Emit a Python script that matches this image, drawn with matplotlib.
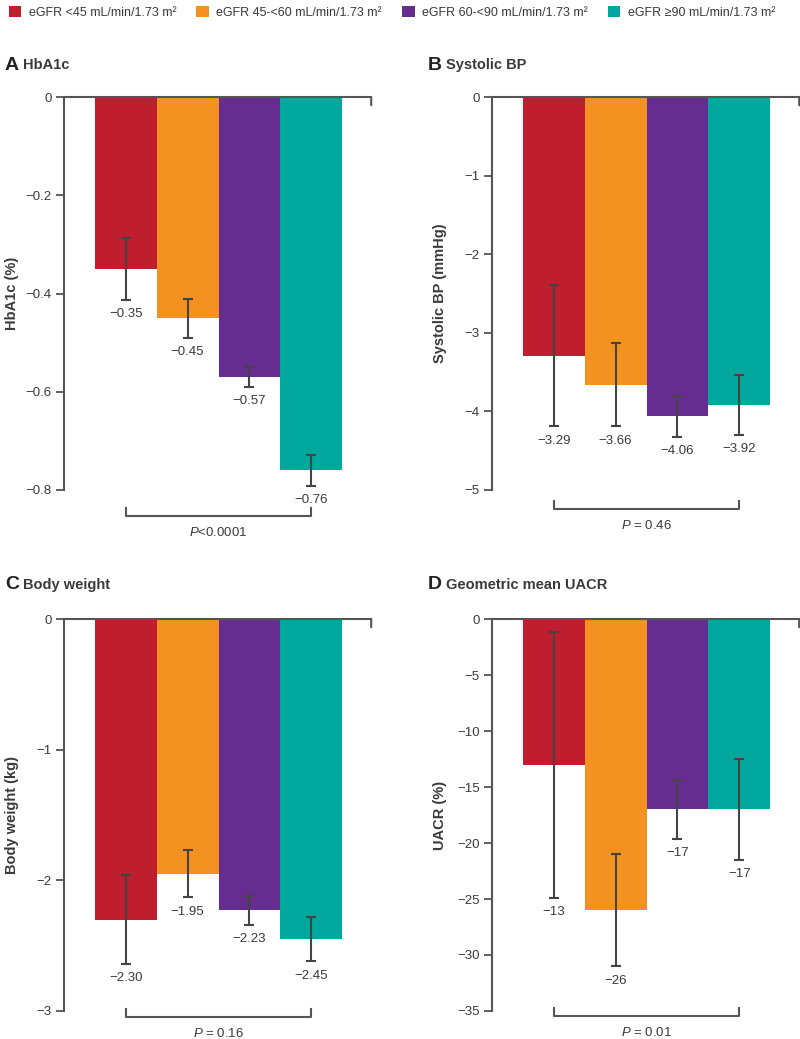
import numpy as np
import matplotlib
matplotlib.use("Agg")
from matplotlib import pyplot as plt
from matplotlib.patches import Patch
import matplotlib.transforms as mtransforms

plt.rcParams['font.family'] = ['Liberation Sans', 'DejaVu Sans']
plt.rcParams['mathtext.fontset'] = 'custom'
plt.rcParams['mathtext.it'] = 'Liberation Sans:italic'
plt.rcParams['mathtext.rm'] = 'Liberation Sans'

# data
groups = ["eGFR <45 mL/min/1.73 m\u00b2", "eGFR 45-<60 mL/min/1.73 m\u00b2",
          "eGFR 60-<90 mL/min/1.73 m\u00b2", "eGFR \u226590 mL/min/1.73 m\u00b2"]
colors = ["#BE1E2D", "#F39221", "#662D91", "#00A79D"]

letters = ["A", "B", "C", "D"]
titles = ["HbA1c", "Systolic BP", "Body weight", "Geometric mean UACR"]
ylabels = ["HbA1c (%)", "Systolic BP (mmHg)", "Body weight (kg)", "UACR (%)"]

hba1c = [-0.35, -0.45, -0.57, -0.76]
hba1c_err = [0.063, 0.04, 0.02, 0.032]
sbp = [-3.29, -3.66, -4.06, -3.92]
sbp_err = [0.90, 0.53, 0.26, 0.38]
weight = [-2.30, -1.95, -2.23, -2.45]
weight_err = [0.34, 0.18, 0.11, 0.17]
uacr = [-13, -26, -17, -17]
uacr_err = [11.9, 5.0, 2.6, 4.5]

yticks_a = [0, -0.2, -0.4, -0.6, -0.8]
yticks_b = [0, -1, -2, -3, -4, -5]
yticks_c = [0, -1, -2, -3]
yticks_d = [0, -5, -10, -15, -20, -25, -30, -35]

p_labels = ["$P$<0.0001", "$P$ = 0.46", "$P$ = 0.16", "$P$ = 0.01"]
value_fmt = ["{:.2f}", "{:.2f}", "{:.2f}", "{:.0f}"]

values = [hba1c, sbp, weight, uacr]
errors = [hba1c_err, sbp_err, weight_err, uacr_err]
yticks = [yticks_a, yticks_b, yticks_c, yticks_d]

# layout (figure fractions)
axes_rects = [[0.080, 0.5284, 0.384, 0.378],
              [0.615, 0.5284, 0.384, 0.378],
              [0.080, 0.0270, 0.384, 0.377],
              [0.615, 0.0270, 0.384, 0.377]]
bracket_y = [-0.066, -0.048, -0.015, -0.013]
title_pos = [(0.006, 0.9374), (0.535, 0.9374), (0.006, 0.437), (0.535, 0.437)]

txt = "#3a3a3a"
axc = "#555555"

def minus(s):
    return s.replace("-", "\u2212")

fig = plt.figure(figsize=(8, 10.39), dpi=100)

x = np.arange(4)
for i in range(4):
    ax = fig.add_axes(axes_rects[i])
    ax.bar(x, values[i], width=1.0, color=colors, zorder=2)
    ax.errorbar(x, values[i], yerr=errors[i], fmt='none', ecolor="#444444",
                elinewidth=1.5, capsize=3.6, capthick=1.5, zorder=3)
    lows = np.array(values[i]) - np.array(errors[i])
    for xi, v, lo in zip(x, values[i], lows):
        ax.annotate(minus(value_fmt[i].format(v)), (xi, lo), xytext=(0, -6),
                    textcoords='offset points', ha='center', va='top',
                    fontsize=9.5, color=txt)

    yt = yticks[i]
    ax.set_xlim(-1, 3.97)
    ax.set_ylim(yt[-1], 0)
    ax.set_yticks(yt)
    ax.set_yticklabels(["0" if t == 0 else minus(f"{t:g}") for t in yt])
    ax.set_xticks([])
    for s in ["right", "bottom"]:
        ax.spines[s].set_visible(False)
    for s in ["left", "top"]:
        ax.spines[s].set_color(axc)
        ax.spines[s].set_linewidth(1.5)
    ax.tick_params(axis='y', direction='out', length=6, width=1.3, color=axc,
                   labelsize=9.5, labelcolor=txt, pad=3)

    # small tick at right end of zero line
    ax.annotate("", xy=(1, 1), xycoords='axes fraction', xytext=(0, -8),
                textcoords='offset pixels',
                arrowprops=dict(arrowstyle='-', color=axc, lw=1.5,
                                shrinkA=0, shrinkB=0))

    ax.set_ylabel(ylabels[i], fontsize=10.5, fontweight='bold', color=txt)
    ax.yaxis.set_label_coords(-0.147, 0.5)

    # bracket for P value
    blend = mtransforms.blended_transform_factory(ax.transData, ax.transAxes)
    by = bracket_y[i]
    ax.plot([0, 0, 3, 3], [by + 0.02, by, by, by + 0.02], transform=blend,
            color=axc, lw=1.5, clip_on=False)
    ax.annotate(p_labels[i], (1.5, by), xycoords=blend, xytext=(0, -7),
                textcoords='offset points', ha='center', va='top',
                fontsize=9.5, color=txt, annotation_clip=False)

    fig.text(title_pos[i][0], title_pos[i][1], letters[i], fontsize=14,
             fontweight='bold', color="#222222", va='center', ha='left')
    fig.text(title_pos[i][0] + 0.023, title_pos[i][1], titles[i], fontsize=10.5,
             fontweight='bold', color=txt, va='center', ha='left')

handles = [Patch(facecolor=c, edgecolor='none') for c in colors]
fig.legend(handles, groups, loc='upper left', bbox_to_anchor=(0.0, 1.003),
           ncol=4, frameon=False, fontsize=9, handlelength=1.0, handleheight=1.0,
           handletextpad=0.6, columnspacing=1.6, labelcolor=txt, borderaxespad=0.3)

fig.savefig("out.png", dpi=100)
